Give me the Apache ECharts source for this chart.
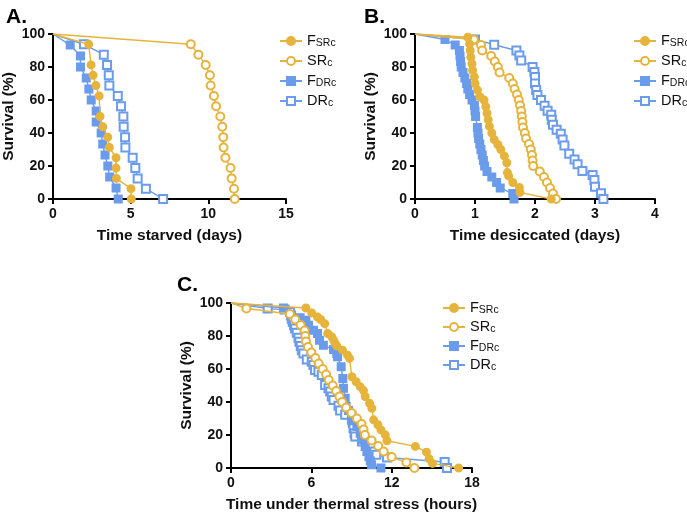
<!DOCTYPE html>
<html>
<head>
<meta charset="utf-8">
<script src="https://cdn.jsdelivr.net/npm/echarts@6/dist/echarts.min.js"></script>
<style>
  html, body { margin: 0; padding: 0; background: #fff; }
  #chart { width: 687px; height: 515px; }
</style>
</head>
<body>
<div id="chart"></div>
<script>
// series names and legend labels
const names = ['FSRc', 'SRc', 'FDRc', 'DRc'];
const labels = ['F{s|SRc}', 'SR{s|c}', 'F{s|DRc}', 'DR{s|c}'];

// A. starvation (days, % survival)
const starvFSRc = [[0,100],[2.3,93.75],[2.45,81.25],[2.58,75],[2.76,68.75],[2.97,62.5],[3.03,50],[3.21,43.75],[3.53,37.5],[3.63,31.25],[4.06,25],[4.06,18.75],[4.08,12.5],[5.02,6.25],[5.04,0]];
const starvSRc = [[0,100],[8.87,93.75],[9.36,87.5],[9.83,81.25],[10.1,75],[10.15,68.75],[10.36,62.5],[10.5,56.25],[10.77,50],[10.9,43.75],[10.96,37.5],[10.98,31.25],[11.1,25],[11.43,18.75],[11.5,12.5],[11.65,6.25],[11.7,0]];
const starvFDRc = [[0,100],[1.11,93.3],[1.77,86.7],[1.77,80],[2.14,73.3],[2.31,66.7],[2.46,60],[2.78,53.3],[2.78,46.7],[3.1,40],[3.2,33.3],[3.35,26.7],[3.53,20],[3.65,13.3],[4.06,6.7],[4.2,0]];
const starvDRc = [[0,100],[1.99,93.75],[3.27,87.5],[3.48,81.25],[3.59,75],[3.63,68.75],[4.17,62.5],[4.38,56.25],[4.53,50],[4.55,43.75],[4.64,37.5],[4.66,31.25],[5.13,25],[5.3,18.75],[5.45,12.5],[5.98,6.25],[7.09,0]];

// B. desiccation (days, % survival)
const desFSRc = [[0,100],[0.88,98],[0.91,94],[0.92,90],[0.93,86],[0.95,82],[0.96,78],[0.99,74],[1.0,70],[1.04,66],[1.08,62],[1.15,60],[1.18,56],[1.2,52],[1.22,48],[1.24,44],[1.28,40],[1.32,36],[1.38,33],[1.43,30],[1.49,26],[1.53,22],[1.54,16],[1.56,14],[1.63,10],[1.74,7],[1.75,4],[2.27,0]];
const desSRc = [[0,100],[0.98,96.7],[1.1,93.3],[1.12,90],[1.27,86.7],[1.33,83.3],[1.38,80],[1.41,76.7],[1.57,73.3],[1.63,70],[1.66,66.7],[1.7,63.3],[1.73,60],[1.75,56.7],[1.77,53.3],[1.78,50],[1.79,46.7],[1.8,43.3],[1.83,40],[1.85,36.7],[1.9,33.3],[1.93,30],[1.95,26.7],[1.96,23.3],[1.97,20],[2.08,16.7],[2.15,13.3],[2.2,10],[2.25,6.7],[2.3,3.3],[2.35,0]];
const desFDRc = [[0,100],[0.5,96.7],[0.67,93.3],[0.74,90],[0.75,86.7],[0.76,83.3],[0.77,80],[0.8,76.7],[0.83,73.3],[0.86,70],[0.88,66.7],[0.91,63.3],[0.95,60],[0.99,56.7],[1.0,53.3],[1.01,50],[1.04,43.3],[1.05,40],[1.06,36.7],[1.08,33.3],[1.1,30],[1.12,26.7],[1.14,23.3],[1.16,20],[1.2,16.7],[1.28,13.3],[1.36,10],[1.42,6.7],[1.63,3.3],[1.65,0]];
const desDRc = [[0,100],[1.0,96.7],[1.32,93.5],[1.69,90],[1.74,87],[1.77,84],[1.96,80],[1.99,77],[2.0,74],[2.0,70],[2.02,66],[2.04,63],[2.1,60],[2.16,56.5],[2.21,53.5],[2.27,51],[2.28,48],[2.3,45],[2.36,42],[2.43,39.5],[2.46,36],[2.49,32.5],[2.57,27.5],[2.66,24],[2.71,21],[2.79,17],[2.96,14.5],[2.99,11.5],[3.0,7.5],[3.1,3.5],[3.14,0]];

// C. thermal stress (hours, % survival)
const heatFSRc = [[0,100],[5.59,97],[6.03,94],[6.46,91.5],[6.7,90],[7.0,87.5],[7.23,81.5],[7.53,79.5],[7.66,77.5],[7.78,75.5],[7.9,74],[8.33,71.4],[8.7,68.4],[8.85,66.4],[9.03,55.3],[9.35,52.3],[9.65,49.3],[9.9,46.9],[10.02,43.3],[10.35,39.2],[10.52,36.2],[10.65,29.2],[10.97,26.2],[11.2,23.1],[11.52,20.1],[11.65,16.5],[13.77,13.1],[14.6,9.6],[14.8,5.6],[15.05,2.8],[17.0,0]];
const heatSRc = [[0,100],[1.15,96.7],[4.4,93.3],[4.8,90],[5.2,86.7],[5.5,83.3],[5.55,80],[5.6,76.7],[5.75,73.3],[6.0,70],[6.3,66.7],[6.55,63.3],[6.85,60],[7.1,56.7],[7.3,53.3],[7.6,50],[7.85,46.7],[8.1,43.3],[8.3,40],[8.6,36.7],[9.0,33.3],[9.4,30],[9.75,26.7],[9.9,23.3],[10.0,20],[10.5,16.7],[11.0,13.3],[11.4,10],[12.0,6.7],[13.1,3.3],[13.7,0]];
const heatFDRc = [[0,100],[3.92,97],[5.16,91],[5.59,89.5],[5.79,86.5],[6.16,83.5],[6.46,81.5],[6.61,77.5],[6.9,74.4],[7.66,71.8],[7.9,69.4],[7.96,67.4],[8.23,61.4],[8.35,54.3],[8.4,48.3],[8.53,42.3],[8.6,37.2],[8.78,34.8],[9.03,32.2],[9.15,29.2],[9.4,25.2],[9.65,21.1],[9.9,17.1],[10.02,13.1],[10.15,10],[10.3,7],[10.4,4.4],[10.5,2],[11.2,0]];
const heatDRc = [[0,100],[2.74,96.6],[4.0,96],[4.41,94.5],[4.49,92.5],[4.54,90.5],[4.61,88.5],[4.71,86.5],[4.79,84.5],[4.91,82],[5.04,79],[5.11,76.5],[5.21,74],[5.29,71.4],[5.41,69.4],[5.66,65.8],[6.03,64.4],[6.16,62.4],[6.28,59.4],[6.53,58.3],[6.78,56.3],[7.03,50.3],[7.28,48.3],[7.41,46.3],[7.53,43.3],[7.66,41.2],[8.03,37.8],[8.15,34.8],[8.53,32.2],[9.03,29.2],[9.1,27.2],[9.15,24.1],[9.23,21.1],[9.28,19.1],[9.78,16.1],[10.27,15.5],[10.45,13.1],[10.65,10],[10.85,8],[11.65,6.4],[15.96,3.6],[16.13,0]];

// axis ticks
const xMaxes = [15, 4, 18];
const xSteps = [5, 1, 6];
const xNames = ['Time starved (days)', 'Time desiccated (days)', 'Time under thermal stress (hours)'];
const yTicks = [0, 20, 40, 60, 80, 100];

const yellow = '#E6B43C';
const blue = '#6B9BEB';
const font = '"Liberation Sans", Arial, sans-serif';

const grids = [
  { left: 52, top: 34, width: 234, height: 165 },
  { left: 415, top: 34, width: 240, height: 165 },
  { left: 231, top: 303, width: 241, height: 165 }
];

const styles = [
  { symbol: 'circle', size: 7, color: yellow },
  { symbol: 'emptyCircle', size: 8, color: yellow },
  { symbol: 'rect', size: 7, color: blue },
  { symbol: 'emptyRect', size: 8, color: blue }
];

const panels = [
  [starvFSRc, starvSRc, starvFDRc, starvDRc],
  [desFSRc, desSRc, desFDRc, desDRc],
  [heatFSRc, heatSRc, heatFDRc, heatDRc]
];

const axisLine = { lineStyle: { color: '#000', width: 2 } };
const axisTick = { inside: false, length: 5, lineStyle: { color: '#000', width: 2 } };

const xAxes = grids.map((g, i) => ({
  type: 'value', gridIndex: i, min: 0, max: xMaxes[i], interval: xSteps[i],
  name: xNames[i], nameLocation: 'middle', nameGap: 29,
  nameTextStyle: { fontFamily: font, fontWeight: 'bold', fontSize: 15.5, color: '#111' },
  axisLine: axisLine, axisTick: axisTick, splitLine: { show: false },
  axisLabel: { fontFamily: font, fontWeight: 'bold', fontSize: 14, color: '#111', margin: 8 }
}));

const yAxes = grids.map((g, i) => ({
  type: 'value', gridIndex: i, min: yTicks[0], max: yTicks[yTicks.length - 1], interval: 20,
  name: 'Survival (%)', nameLocation: 'middle', nameGap: 36, nameRotate: 90,
  nameTextStyle: { fontFamily: font, fontWeight: 'bold', fontSize: 15.5, color: '#111' },
  axisLine: axisLine, axisTick: axisTick, splitLine: { show: false },
  axisLabel: { fontFamily: font, fontWeight: 'bold', fontSize: 14, color: '#111', margin: 8 }
}));

const series = [];
panels.forEach((sets, p) => {
  sets.forEach((pts, k) => {
    const st = styles[k];
    series.push({
      name: names[k], type: 'line', xAxisIndex: p, yAxisIndex: p,
      symbol: st.symbol, symbolSize: st.size,
      data: pts.map((d, j) => j === 0 ? { value: d, symbol: 'none' } : d),
      lineStyle: { color: st.color, width: 1.4 },
      itemStyle: { color: st.color, borderColor: st.color, borderWidth: 2 },
      emphasis: { disabled: true },
      animation: false, z: 10 - k
    });
  });
});

const legendPos = [
  { left: 274, top: 28, itemGap: 4 },
  { left: 628, top: 28, itemGap: 4 },
  { left: 437, top: 295, itemGap: 3 }
];

const legends = legendPos.map(lp => ({
  orient: 'vertical', left: lp.left, top: lp.top, itemGap: lp.itemGap,
  itemWidth: 22, itemHeight: 10, data: names,
  formatter: n => labels[names.indexOf(n)],
  textStyle: {
    fontFamily: font, fontSize: 14.5, color: '#111', lineHeight: 16,
    rich: { s: { fontFamily: font, fontSize: 10.5, lineHeight: 6, verticalAlign: 'bottom', color: '#111' } }
  }
}));

const titleStyle = { fontFamily: font, fontWeight: 'bold', fontSize: 21, color: '#000' };
const titles = [
  { text: 'A.', left: 1, top: 2, textStyle: titleStyle },
  { text: 'B.', left: 359, top: 2, textStyle: titleStyle },
  { text: 'C.', left: 172, top: 270, textStyle: titleStyle }
];

const chart = echarts.init(document.getElementById('chart'));
chart.setOption({
  backgroundColor: '#fff',
  animation: false,
  title: titles,
  legend: legends,
  grid: grids,
  xAxis: xAxes,
  yAxis: yAxes,
  series: series
});
</script>
</body>
</html>
